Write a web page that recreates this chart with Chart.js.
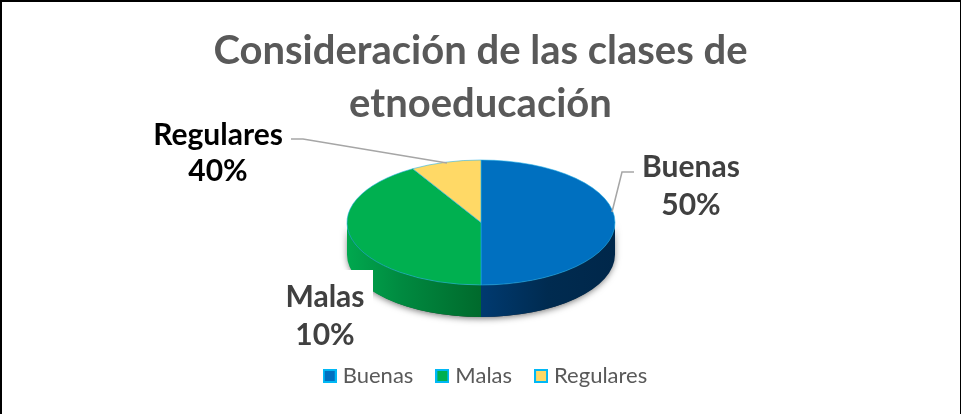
<!DOCTYPE html>
<html><head><meta charset="utf-8">
<style>html,body{margin:0;padding:0;background:#fff}#w{position:relative;width:961px;height:414px;box-sizing:border-box;border-style:solid;border-color:#000;border-width:2px 1px 0 2px;overflow:hidden}canvas{position:absolute;left:-2px;top:-2px}</style>
<script src="https://cdn.jsdelivr.net/npm/chart.js@4"></script></head>
<body><div id="w"><canvas id="c" width="961" height="414"></canvas></div>
<script>
const categories = ['Buenas','Malas','Regulares'];
const sliceValues = [50,41.5,8.5];
const sliceColors = ['#0070c0','#00b050','#ffd966'];
const labelPercents = ['50%','10%','40%'];
const titleLines = ['Consideración de las clases de','etnoeducación'];
const FONT = 'Lato, Carlito, "Open Sans", sans-serif';
const ellipse = {cx:481, cy:222.5, rx:134, ry:62.5, depth:32};

function legendSwatch(color){
  const s=document.createElement('canvas'); s.width=14; s.height=14;
  const g=s.getContext('2d');
  g.fillStyle='#00b8f5'; g.fillRect(0,0,14,14);
  g.fillStyle=color; g.fillRect(2,2,10,10);
  return s;
}
const pie3d = {
  id:'pie3d',
  afterLayout(chart){ chart.legend.left+=7; chart.legend.right+=7; },
  beforeDatasetsDraw(chart){
    const ctx = chart.ctx, {cx,cy,rx,ry,depth} = ellipse;
    ctx.save();
    ctx.shadowColor='rgba(0,0,0,.6)'; ctx.shadowBlur=7; ctx.shadowOffsetY=1;
    ctx.fillStyle='#333';
    ctx.beginPath();
    ctx.ellipse(cx,cy+depth,rx-1,ry,0,0,Math.PI);
    ctx.ellipse(cx,cy,rx-1,ry,0,Math.PI,0,true);
    ctx.closePath(); ctx.fill();
    ctx.restore();
    const walls=[
      [0,Math.PI/2,cx,cx+rx,[['#003a70',0],['#002b50',.5],['#00274a',1]]],
      [Math.PI/2,Math.PI,cx-rx,cx,[['#00a84e',0],['#008a40',.4],['#006a2c',1]]]
    ];
    walls.forEach(([a0,a1,x0,x1,stops])=>{
      const g=ctx.createLinearGradient(x0,0,x1,0);
      stops.forEach(([c,p])=>g.addColorStop(p,c));
      ctx.fillStyle=g;
      ctx.beginPath();
      ctx.ellipse(cx,cy+depth,rx,ry,0,a0,a1);
      ctx.ellipse(cx,cy,rx,ry,0,a1,a0,true);
      ctx.closePath(); ctx.fill();
    });
    const a=chart.getDatasetMeta(0).data[0];
    ctx.save();
    ctx.translate(cx,cy); ctx.scale(rx/a.outerRadius,ry/a.outerRadius); ctx.translate(-a.x,-a.y);
  },
  afterDatasetsDraw(chart){
    const ctx=chart.ctx;
    ctx.restore();
    drawLabels(ctx);
  }
};
function leader(ctx,pts){
  ctx.strokeStyle='#a6a6a6'; ctx.lineWidth=1.5; ctx.beginPath();
  pts.forEach((p,i)=>i?ctx.lineTo(p[0],p[1]):ctx.moveTo(p[0],p[1]));
  ctx.stroke();
}
function drawLabels(ctx){
  ctx.save();
  leader(ctx,[[291,139],[303,139],[447,163]]);
  leader(ctx,[[634,172],[622,172],[612,212]]);
  ctx.fillStyle='#fff'; ctx.fillRect(278,270,95,84);
  ctx.font='bold 30px '+FONT; ctx.textAlign='center'; ctx.textBaseline='middle';
  const put=(lines,x,y,col,gap)=>{ctx.fillStyle=col;lines.forEach((t,i)=>ctx.fillText(t,x,y+i*gap));};
  put([categories[0],labelPercents[0]],691,167,'#404040',38);
  put([categories[1],labelPercents[1]],325,297,'#404040',38);
  put([categories[2],labelPercents[2]],218,135,'#000',36);
  ctx.restore();
}
new Chart(document.getElementById('c'),{
  type:'pie',
  data:{labels:categories,datasets:[{data:sliceValues,backgroundColor:sliceColors,borderColor:'#22b0e6',borderWidth:0.6}]},
  options:{
    responsive:false,animation:false,
    layout:{padding:{top:9,bottom:17,left:0,right:0}},
    plugins:{
      tooltip:{enabled:false},
      title:{display:true,text:titleLines,color:'#595959',font:{family:FONT,size:40,weight:'bold',lineHeight:1.33},padding:{top:15,bottom:0}},
      legend:{position:'bottom',labels:{color:'#595959',font:{family:FONT,size:22},usePointStyle:true,boxWidth:4,boxHeight:14,padding:27,
        generateLabels(c){return categories.map((t,i)=>({text:t,fillStyle:sliceColors[i],strokeStyle:'#00b8f5',lineWidth:0,pointStyle:legendSwatch(sliceColors[i]),fontColor:'#595959',index:i,hidden:false}));}}}
    }
  },
  plugins:[pie3d]
});
</script></body></html>
